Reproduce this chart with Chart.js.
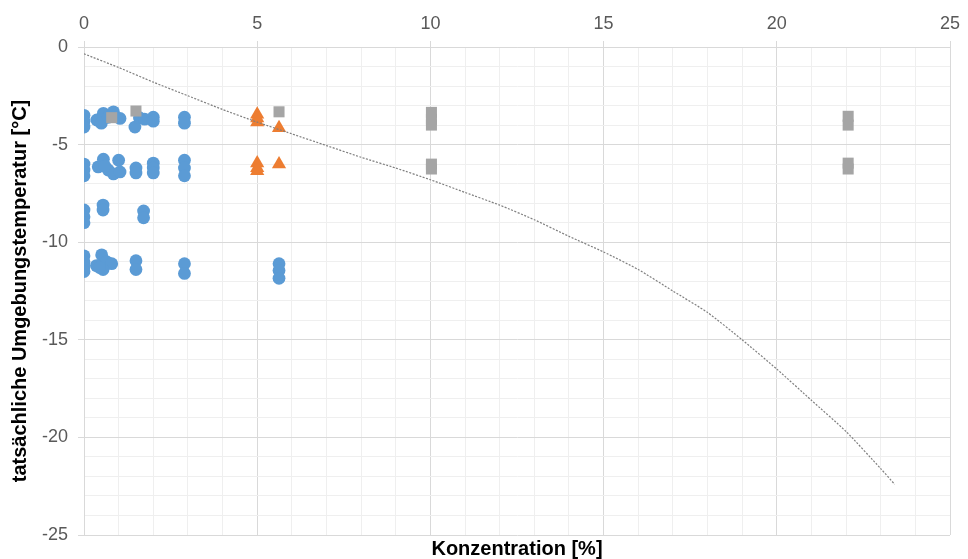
<!DOCTYPE html>
<html>
<head>
<meta charset="utf-8">
<script src="https://cdn.jsdelivr.net/npm/chart.js@4/dist/chart.umd.min.js"></script>
<style>
  html, body { margin: 0; padding: 0; background: #ffffff; }
  #wrap { width: 968px; height: 559px; position: relative; }
</style>
</head>
<body>
<div id="wrap"><canvas id="chart"></canvas></div>
<script>
// Messreihe 1 (blau): Konzentration [%] / Umgebungstemperatur [°C]
const blueX = [
  0, 0, 0, 0.37, 0.56, 0.5, 0.85, 1.04, 0.7, 1.47, 1.6, 1.75, 2.0, 2.0, 2.9, 2.9,
  0, 0, 0, 0.41, 0.56, 0.7, 0.85, 1.0, 1.04, 0.6, 1.5, 1.5, 2.0, 2.0, 2.0, 2.9, 2.9, 2.9,
  0, 0, 0, 0.55, 0.55, 1.72, 1.72,
  0, 0, 0, 0, 0.51, 0.36, 0.65, 0.8, 0.55, 0.45, 1.5, 1.5, 2.9, 2.9, 5.63, 5.63, 5.63
];
const blueY = [
  -3.5, -3.8, -4.1, -3.74, -3.4, -3.9, -3.32, -3.66, -3.6, -4.1, -3.62, -3.7, -3.6, -3.8, -3.6, -3.9,
  -6.0, -6.3, -6.6, -6.14, -5.75, -6.3, -6.5, -5.8, -6.4, -6.1, -6.2, -6.45, -5.95, -6.2, -6.45, -5.8, -6.2, -6.6,
  -8.35, -8.7, -9.0, -8.1, -8.35, -8.4, -8.75,
  -10.7, -11.0, -11.25, -11.5, -10.65, -11.2, -11.0, -11.1, -11.4, -11.3, -10.95, -11.4, -11.1, -11.6, -11.1, -11.45, -11.85
];

// Messreihe 2 (orange)
const orangeX = [5, 5, 5, 5.63, 5, 5, 5, 5.63];
const orangeY = [-3.45, -3.65, -3.85, -4.15, -5.95, -6.2, -6.35, -6.0];

// Messreihe 3 (grau)
const grayX = [0.8, 1.5, 5.63, 10.03, 10.03, 10.03, 10.03, 10.03, 22.06, 22.06, 22.06, 22.06];
const grayY = [-3.62, -3.28, -3.32, -3.35, -3.7, -4.0, -6.0, -6.25, -3.55, -4.0, -5.95, -6.25];

// Gefrierkurve
const curveX = [0, 1, 2, 3, 4, 5, 6, 7, 8, 9, 10, 11, 12, 13, 14, 15, 16, 17, 18, 19, 20, 21, 22, 23, 23.4];
const curveY = [-0.35, -1.05, -1.8, -2.5, -3.2, -3.85, -4.45, -5.05, -5.65, -6.2, -6.8, -7.45, -8.1,
                -8.85, -9.7, -10.5, -11.4, -12.5, -13.6, -15.0, -16.5, -18.1, -19.7, -21.6, -22.4];

// Achsenbeschriftung
const xTickLabels = ['0', '5', '10', '15', '20', '25'];
const yTickLabels = ['0', '-5', '-10', '-15', '-20', '-25'];
const xTitle = 'Konzentration [%]';
const yTitle = 'tatsächliche Umgebungstemperatur [°C]';

const pts = (xs, ys) => xs.map((x, i) => ({ x: x, y: ys[i] }));

const FONT = "'Liberation Sans', Arial, sans-serif";
const isMajor = v => Math.round(v) % 5 === 0;
const gridColor = ctx => (ctx.tick && isMajor(ctx.tick.value)) ? '#d9d9d9' : '#efefef';
const tickMarkColor = ctx => (ctx.tick && isMajor(ctx.tick.value)) ? '#d9d9d9' : 'rgba(0,0,0,0)';

new Chart(document.getElementById('chart'), {
  type: 'scatter',
  data: {
    datasets: [
      {
        label: 'Kurve',
        data: pts(curveX, curveY),
        showLine: true,
        borderColor: '#7f7f7f',
        borderWidth: 1.2,
        borderDash: [2, 1.5],
        tension: 0.2,
        pointRadius: 0,
        fill: false
      },
      {
        label: 'Reihe 3',
        data: pts(grayX, grayY),
        pointStyle: 'rect',
        pointRadius: 7.8,
        backgroundColor: '#a5a5a5',
        borderColor: '#a5a5a5',
        borderWidth: 0
      },
      {
        label: 'Reihe 2',
        data: pts(orangeX, orangeY),
        pointStyle: 'triangle',
        pointRadius: 8.2,
        backgroundColor: '#ed7d31',
        borderColor: '#ed7d31',
        borderWidth: 0
      },
      {
        label: 'Reihe 1',
        data: pts(blueX, blueY),
        pointStyle: 'circle',
        pointRadius: 6.4,
        backgroundColor: '#5b9bd5',
        borderColor: '#5b9bd5',
        borderWidth: 0
      }
    ]
  },
  options: {
    responsive: true,
    maintainAspectRatio: false,
    animation: false,
    events: [],
    layout: { padding: { left: 0, right: 18, top: 0, bottom: 0 } },
    plugins: {
      legend: { display: false },
      tooltip: { enabled: false }
    },
    scales: {
      x: {
        type: 'linear',
        position: 'top',
        min: 0,
        max: 25,
        afterFit: s => { s.height = 47; },
        ticks: {
          stepSize: 1,
          autoSkip: false,
          maxRotation: 0,
          padding: 6,
          color: '#595959',
          font: { family: FONT, size: 18 },
          callback: v => isMajor(v) ? xTickLabels[Math.round(v) / 5] : ''
        },
        grid: {
          color: gridColor,
          tickColor: tickMarkColor,
          tickLength: 6,
          lineWidth: 1
        },
        border: { color: '#d9d9d9', width: 1 }
      },
      xt: {
        type: 'linear',
        position: 'bottom',
        min: 0,
        max: 25,
        afterFit: s => { s.height = 24; },
        ticks: { display: false },
        grid: { display: false },
        border: { display: false },
        title: {
          display: true,
          text: xTitle,
          color: '#000000',
          padding: { top: 0, bottom: 0 },
          font: { family: FONT, size: 20, weight: 'bold', lineHeight: 1 }
        }
      },
      y: {
        type: 'linear',
        position: 'left',
        min: -25,
        max: 0,
        afterFit: s => { s.width = 84; },
        ticks: {
          stepSize: 1,
          autoSkip: false,
          padding: 10,
          color: '#595959',
          font: { family: FONT, size: 18 },
          callback: v => isMajor(v) ? yTickLabels[Math.round(-v) / 5] : ''
        },
        grid: {
          color: gridColor,
          tickColor: tickMarkColor,
          tickLength: 6,
          lineWidth: 1
        },
        border: { color: '#d9d9d9', width: 1 },
        title: {
          display: true,
          text: yTitle,
          color: '#000000',
          padding: { top: 8, bottom: 0 },
          font: { family: FONT, size: 20, weight: 'bold', lineHeight: 1.2 }
        }
      }
    }
  }
});
</script>
</body>
</html>
